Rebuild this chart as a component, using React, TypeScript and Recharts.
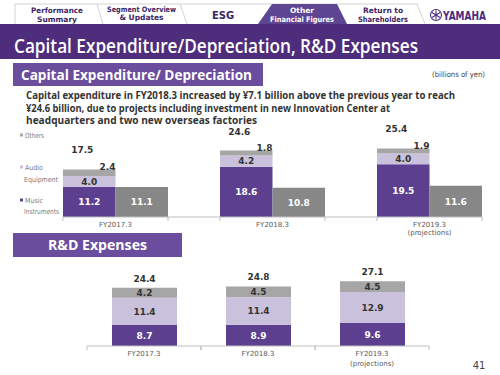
import React from "react";
import { BarChart, Bar, XAxis, YAxis, LabelList } from "recharts";

// fiscal years shown on both charts
const fiscalYears = ["FY2017.3", "FY2018.3", "FY2019.3"];
const yearNotes = ["", "", "(projections)"];

// capital expenditure (billions of yen)
const capexMusic = [11.2, 18.6, 19.5];
const capexAudio = [4.0, 4.2, 4.0];
const capexOthers = [2.4, 1.8, 1.9];
const capexTotal = [17.5, 24.6, 25.4];
const depreciation = [11.1, 10.8, 11.6];

// R&D expenses (billions of yen)
const rdMusic = [8.7, 8.9, 9.6];
const rdAudio = [11.4, 11.4, 12.9];
const rdOthers = [4.2, 4.5, 4.5];
const rdTotal = [24.4, 24.8, 27.1];

const PURPLE = "#5d3f8f";
const LIGHT = "#cac1dd";
const GRAY = "#a6a6a6";
const DARKGRAY = "#878787";
const TEXT = "#333333";
const FONT = "DejaVu Sans";

const capexData = fiscalYears.map((fy, i) => ({
  fy,
  music: capexMusic[i],
  audio: capexAudio[i],
  others: capexOthers[i],
  total: capexTotal[i],
  depreciation: depreciation[i],
}));

const rdData = fiscalYears.map((fy, i) => ({
  fy,
  music: rdMusic[i],
  audio: rdAudio[i],
  others: rdOthers[i],
  total: rdTotal[i],
}));

const num = (v: any) => Number(v).toFixed(1);

// label centred inside a bar segment
const inside = (color: string) => (p: any) => (
  <text
    x={p.x + p.width / 2}
    y={p.y + p.height / 2 + 3.3}
    textAnchor="middle"
    fontFamily={FONT}
    fontWeight="bold"
    fontSize={9}
    fill={color}
  >
    {num(p.value)}
  </text>
);

const makeTick = (half: number, noteGap: number) => (p: any) => {
  const { x, y, payload, index } = p;
  return (
    <g>
      <line x1={x - half} x2={x - half} y1={y} y2={y + 4} stroke="#bfbfbf" />
      <line x1={x + half} x2={x + half} y1={y} y2={y + 4} stroke="#bfbfbf" />
      <text x={x} y={y + 9.5} textAnchor="middle" fontFamily={FONT} fontSize={7} fill="#595959">
        {payload.value}
      </text>
      {yearNotes[index] && (
        <text x={x} y={y + noteGap} textAnchor="middle" fontFamily={FONT} fontSize={7} fill="#595959">
          {yearNotes[index]}
        </text>
      )}
    </g>
  );
};

const Header = () => (
  <svg width={500} height={375} style={{ position: "absolute", left: 0, top: 0 }}>
    {/* nav tabs */}
    <g stroke="#c8c8c8" strokeWidth={0.8} fill="none">
      <line x1={15} y1={4} x2={418} y2={4} />
      <line x1={15} y1={4} x2={15} y2={24} />
      <line x1={97} y1={4} x2={103} y2={24} />
      <line x1={180} y1={4} x2={187} y2={24} />
      <line x1={417} y1={4} x2={425} y2={24} />
    </g>
    <polygon points="272,4 337,4 347,24 258,24" fill="#5e4592" />
    <g fontFamily={FONT} fontWeight="bold" fill="#3b2566" textAnchor="middle" fontSize={7.5}>
      <text x={57} y={13} textLength={52} lengthAdjust="spacingAndGlyphs">Performance</text>
      <text x={57} y={22}>Summary</text>
      <text x={141.5} y={11.5} textLength={69} lengthAdjust="spacingAndGlyphs">Segment Overview</text>
      <text x={141.5} y={20}>&amp; Updates</text>
      <text x={223} y={19} fontSize={10}>ESG</text>
      <text x={302} y={13} fill="#fff">Other</text>
      <text x={302} y={22} fill="#fff" textLength={64} lengthAdjust="spacingAndGlyphs">Financial Figures</text>
      <text x={383} y={13}>Return to</text>
      <text x={383} y={22} textLength={50} lengthAdjust="spacingAndGlyphs">Shareholders</text>
    </g>
    {/* logo */}
    <g stroke="#4a2b80" strokeWidth={1.1} fill="none">
      <circle cx={436} cy={15} r={5.5} />
      <line x1={436} y1={10.5} x2={436} y2={19.5} />
      <line x1={432} y1={12.5} x2={440} y2={17.5} />
      <line x1={440} y1={12.5} x2={432} y2={17.5} />
    </g>
    <text x={443} y={20} fontFamily={FONT} fontWeight="bold" fontSize={12} fill="#4a2b80" textLength={43} lengthAdjust="spacingAndGlyphs">
      YAMAHA
    </text>
    {/* title bar */}
    <rect x={0} y={24} width={500} height={35} fill="#4d2d7c" />
    <text x={14} y={52.5} fontFamily="Open Sans" fontWeight={600} fontSize={20} fill="#fff" textLength={404} lengthAdjust="spacingAndGlyphs">
      Capital Expenditure/Depreciation, R&amp;D Expenses
    </text>
    {/* section 1 */}
    <rect x={13} y={63} width={250} height={23} fill="#6a4d9c" />
    <text x={21} y={80} fontFamily="Open Sans" fontWeight={700} fontSize={15} fill="#fff" textLength={231} lengthAdjust="spacingAndGlyphs">
      Capital Expenditure/ Depreciation
    </text>
    <text x={432} y={76.5} fontFamily={FONT} fontSize={7.5} fill="#444" textLength={53} lengthAdjust="spacingAndGlyphs">
      (billions of yen)
    </text>
    <g fontFamily="Open Sans" fontWeight={700} fontSize={10.5} fill={TEXT}>
      <text x={26} y={99} textLength={429} lengthAdjust="spacingAndGlyphs">
        Capital expenditure in FY2018.3 increased by ¥7.1 billion above the previous year to reach
      </text>
      <text x={26} y={111.5} textLength={364} lengthAdjust="spacingAndGlyphs">
        ¥24.6 billion, due to projects including investment in new Innovation Center at
      </text>
      <text x={26} y={124} textLength={231} lengthAdjust="spacingAndGlyphs">
        headquarters and two new overseas factories
      </text>
    </g>
    {/* legend */}
    <g fontFamily={FONT} fontSize={7} fill="#7a7a7a">
      <rect x={20} y={133.5} width={3} height={3} fill={GRAY} />
      <text x={25} y={137.5} textLength={19} lengthAdjust="spacingAndGlyphs">Others</text>
      <rect x={20} y={165.5} width={3} height={3} fill={LIGHT} />
      <text x={25} y={169.5} textLength={18} lengthAdjust="spacingAndGlyphs">Audio</text>
      <text x={24} y={181.5} textLength={34} lengthAdjust="spacingAndGlyphs">Equipment</text>
      <rect x={20} y={198.5} width={3} height={3} fill={PURPLE} />
      <text x={25} y={202.5} textLength={18} lengthAdjust="spacingAndGlyphs">Music</text>
      <text x={24} y={214} textLength={35} lengthAdjust="spacingAndGlyphs">Instruments</text>
    </g>
    {/* section 2 */}
    <rect x={13} y={233} width={169} height={24} fill="#6a4d9c" />
    <text x={97.5} y={250} textAnchor="middle" fontFamily="Open Sans" fontWeight={700} fontSize={15} fill="#fff" textLength={99} lengthAdjust="spacingAndGlyphs">
      R&amp;D Expenses
    </text>
    <text x={479} y={369} textAnchor="middle" fontFamily={FONT} fontSize={10} fill="#444">41</text>
  </svg>
);

const CapexChart = () => (
  <div style={{ position: "absolute", left: 0, top: 120 }}>
    <BarChart
      width={500}
      height={120}
      data={capexData}
      margin={{ top: 16, right: 18, bottom: 0, left: 63 }}
      barGap={0}
      barSize={52.5}
    >
      <XAxis
        dataKey="fy"
        height={23}
        padding={{ left: -26, right: -26 }}
        axisLine={{ stroke: "#bfbfbf" }}
        tickLine={false}
        tickSize={0}
        tickMargin={0}
        interval={0}
        tick={makeTick(52.5, 18)}
      />
      <YAxis hide domain={[0, 30]} />
      <Bar dataKey="music" stackId="capex" fill={PURPLE} isAnimationActive={false}>
        <LabelList dataKey="music" content={inside("#fff")} />
      </Bar>
      <Bar dataKey="audio" stackId="capex" fill={LIGHT} isAnimationActive={false}>
        <LabelList dataKey="audio" content={inside(TEXT)} />
      </Bar>
      <Bar dataKey="others" stackId="capex" fill={GRAY} isAnimationActive={false}>
        <LabelList
          dataKey="others"
          content={(p: any) => (
            <text x={p.x + p.width - 8} y={p.y + 0.5} textAnchor="middle" fontFamily={FONT} fontWeight="bold" fontSize={9} fill={TEXT}>
              {num(p.value)}
            </text>
          )}
        />
        <LabelList
          dataKey="total"
          content={(p: any) => (
            <text x={p.x + p.width / 2 - 7} y={p.y - 16} textAnchor="middle" fontFamily={FONT} fontWeight="bold" fontSize={9} fill={TEXT}>
              {num(p.value)}
            </text>
          )}
        />
      </Bar>
      <Bar dataKey="depreciation" fill={DARKGRAY} isAnimationActive={false}>
        <LabelList dataKey="depreciation" content={inside("#fff")} />
      </Bar>
    </BarChart>
  </div>
);

const RdChart = () => (
  <div style={{ position: "absolute", left: 0, top: 262 }}>
    <BarChart
      width={500}
      height={108}
      data={rdData}
      margin={{ top: 12, right: 71, bottom: 0, left: 87 }}
      barSize={65}
    >
      <XAxis
        dataKey="fy"
        height={24}
        axisLine={{ stroke: "#bfbfbf" }}
        tickLine={false}
        tickSize={0}
        tickMargin={0}
        interval={0}
        tick={makeTick(57, 20)}
      />
      <YAxis hide domain={[0, 30]} />
      <Bar dataKey="music" stackId="rd" fill={PURPLE} isAnimationActive={false}>
        <LabelList dataKey="music" content={inside("#fff")} />
      </Bar>
      <Bar dataKey="audio" stackId="rd" fill={LIGHT} isAnimationActive={false}>
        <LabelList dataKey="audio" content={inside(TEXT)} />
      </Bar>
      <Bar dataKey="others" stackId="rd" fill={GRAY} isAnimationActive={false}>
        <LabelList dataKey="others" content={inside(TEXT)} />
        <LabelList
          dataKey="total"
          content={(p: any) => (
            <text x={p.x + p.width / 2} y={p.y - 6} textAnchor="middle" fontFamily={FONT} fontWeight="bold" fontSize={9} fill={TEXT}>
              {num(p.value)}
            </text>
          )}
        />
      </Bar>
    </BarChart>
  </div>
);

export default function App() {
  return (
    <div style={{ position: "absolute", left: 0, top: 0, width: 500, height: 375, background: "#fff", overflow: "hidden" }}>
      <Header />
      <CapexChart />
      <RdChart />
    </div>
  );
}
